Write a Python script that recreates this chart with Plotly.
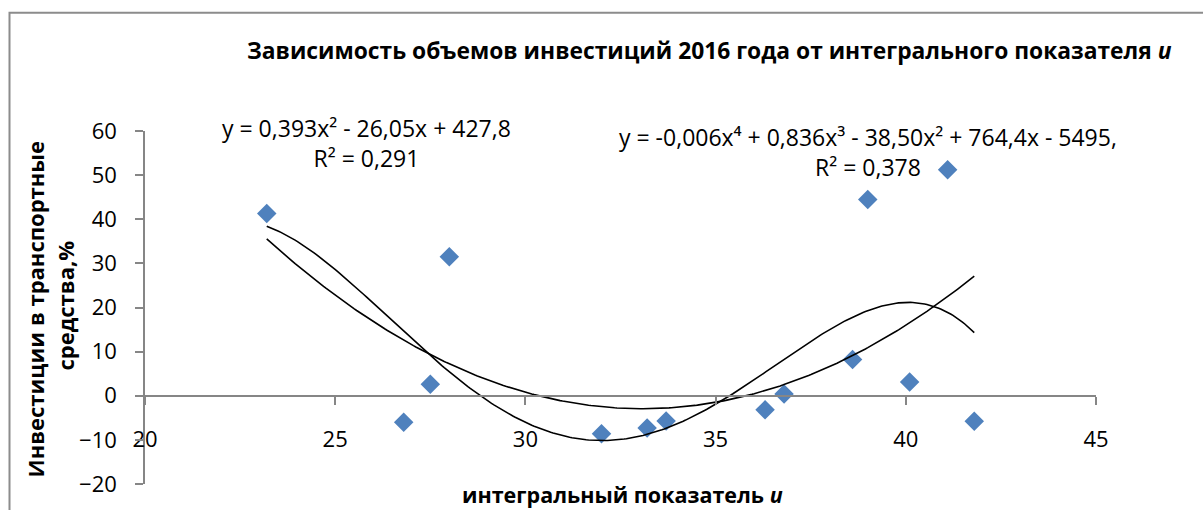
import numpy as np
import plotly.graph_objects as go

# Integral indicator u (x) and 2016 investment in vehicles, % (y)
indicator_u = [23.2, 26.8, 27.5, 28.0, 32.0, 33.2, 33.7, 36.3, 36.8, 38.6, 39.0, 40.1, 41.1, 41.8]
investment_pct = [41.3, -6.0, 2.6, 31.5, -8.6, -7.3, -5.7, -3.2, 0.4, 8.2, 44.5, 3.1, 51.2, -5.8]

x_ticks = [20, 25, 30, 35, 40, 45]
y_ticks = [-20, -10, 0, 10, 20, 30, 40, 50, 60]

title_text = "Зависимость объемов инвестиций 2016 года от интегрального показателя <i>и</i>"
x_title = "интегральный показатель <i>и</i>"
y_title_lines = ["Инвестиции в транспортные", "средства,%"]
eq_quad = ["y = 0,393x² - 26,05x + 427,8", "R² = 0,291"]
eq_quart = ["y = -0,006x⁴ + 0,836x³ - 38,50x² + 764,4x - 5495,", "R² = 0,378"]

FONT = "Open Sans"
AXIS_GREY = "#868686"

x = np.array(indicator_u)
y = np.array(investment_pct)

# polynomial trendlines (orders 2 and 4) over the data range
xs = np.linspace(x.min(), x.max(), 300)
fit2 = np.polyval(np.polyfit(x, y, 2), xs)
fit4 = np.polyval(np.polyfit(x, y, 4), xs)

fig = go.Figure()
fig.add_trace(go.Scatter(x=x, y=y, mode="markers",
                         marker=dict(symbol="diamond", size=15, color="#4F81BD",
                                     line=dict(width=0)),
                         showlegend=False))
fig.add_trace(go.Scatter(x=xs, y=fit2, mode="lines",
                         line=dict(color="black", width=1.6), showlegend=False))
fig.add_trace(go.Scatter(x=xs, y=fit4, mode="lines",
                         line=dict(color="black", width=1.6), showlegend=False))

L, R, T, B = 145, 107, 131, 21
W, H = 1203, 510
pw, ph = W - L - R, H - T - B


def px(xp):
    return (xp - L) / pw


def py(yp):
    return (H - B - yp) / ph


fig.update_layout(
    width=W, height=H,
    margin=dict(l=L, r=R, t=T, b=B),
    paper_bgcolor="white", plot_bgcolor="white",
    font=dict(family=FONT, color="black", size=20),
    showlegend=False,
    xaxis=dict(range=[20, 45], tickvals=x_ticks, showgrid=False, zeroline=False,
               showline=True, linecolor=AXIS_GREY, linewidth=1.5,
               ticks="outside", ticklen=8, tickcolor=AXIS_GREY, tickwidth=1.5,
               anchor="free", position=0.25, ticklabelstandoff=16,
               tickfont=dict(size=22, family=FONT)),
    yaxis=dict(range=[-20, 60], tickvals=y_ticks, showgrid=False, zeroline=False,
               showline=True, linecolor=AXIS_GREY, linewidth=1.5,
               ticks="outside", ticklen=8, tickcolor=AXIS_GREY, tickwidth=1.5,
               ticklabelstandoff=14,
               tickfont=dict(size=22, family=FONT)),
)

ann = []
ann.append(dict(text="<b>" + title_text + "</b>", x=px(709), y=py(49), xref="paper", yref="paper",
                xanchor="center", yanchor="middle", showarrow=False,
                font=dict(size=22.8, family=FONT)))
ann.append(dict(text="<b>" + x_title + "</b>", x=px(622), y=py(500), xref="paper", yref="paper",
                xanchor="center", yanchor="middle", showarrow=False,
                font=dict(size=21.5, family=FONT)))
for cx, cy, t in [(35, 312, y_title_lines[0]), (65, 308, y_title_lines[1])]:
    ann.append(dict(text="<b>" + t + "</b>", x=px(cx), y=py(cy), xref="paper", yref="paper",
                    xanchor="center", yanchor="middle", showarrow=False, textangle=-90,
                    font=dict(size=22, family=FONT)))
# trendline equation labels (equation and R² on two centred lines)
for cx, cy, lines in [(366, 143, eq_quad), (868, 152, eq_quart)]:
    ann.append(dict(text="<br>".join(lines), x=px(cx), y=py(cy), xref="paper", yref="paper",
                    xanchor="center", yanchor="middle", align="center", showarrow=False,
                    font=dict(size=23, family=FONT)))
fig.update_layout(annotations=ann)

# outer chart border
fig.add_shape(type="rect", xref="paper", yref="paper",
              x0=px(9.5), x1=px(1215), y0=py(525), y1=py(11),
              line=dict(color="#8c8c8c", width=2), layer="below")

fig.write_html("out.html")
